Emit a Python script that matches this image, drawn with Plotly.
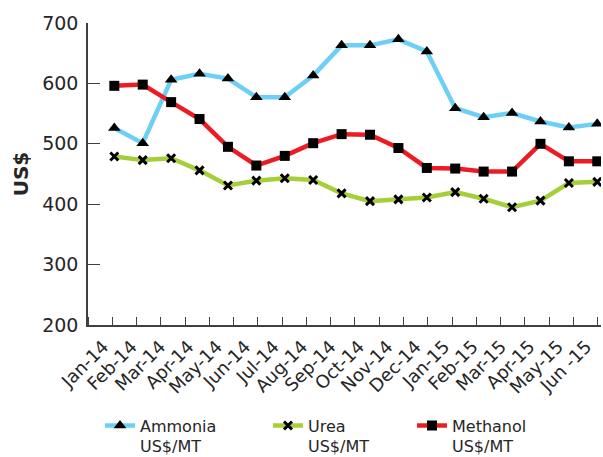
import plotly.graph_objects as go

# Monthly prices, Jan 2014 - Jun 2015 (US$/MT)
months = ["Jan-14", "Feb-14", "Mar-14", "Apr-14", "May-14", "Jun-14", "Jul-14",
          "Aug-14", "Sep-14", "Oct-14", "Nov-14", "Dec-14", "Jan-15", "Feb-15",
          "Mar-15", "Apr-15", "May-15", "Jun -15"]
ammonia = [526, 501, 606, 616, 608, 577, 577, 613, 663, 663, 673, 653,
           559, 544, 551, 537, 527, 533]
urea = [479, 473, 476, 456, 431, 439, 443, 440, 418, 405, 408, 411,
        420, 409, 395, 406, 435, 437]
methanol = [596, 598, 569, 541, 495, 464, 480, 501, 516, 515, 493, 460,
            459, 454, 454, 500, 471, 471]
y_ticks = [200, 300, 400, 500, 600, 700]

FONT = "DejaVu Sans"
INK = "#262626"
W, H = 603, 457
idx = list(range(len(months)))

# name, values, line colour, marker symbol, marker size, marker outline, legend id, legend left (px)
series = [
    ("Ammonia<br>US$/MT", ammonia, "#6DCFF6", "triangle-up", 11, 0, "legend", 100),
    ("Urea<br>US$/MT", urea, "#A6CE39", "x-thin", 8, 3, "legend2", 268),
    ("Methanol<br>US$/MT", methanol, "#ED1C24", "square", 10, 0, "legend3", 412),
]

fig = go.Figure()
legends = {}
for name, vals, color, symbol, size, lw, leg, left in series:
    fig.add_trace(go.Scatter(
        x=idx, y=vals, name=name, mode="lines+markers",
        line=dict(color=color, width=4.5),
        marker=dict(symbol=symbol, size=size, color="black",
                    line=dict(width=lw, color="black")),
        legend=leg, hoverinfo="skip",
    ))
    legends[leg] = dict(
        orientation="h", xref="container", x=left / W, xanchor="left",
        yref="container", y=0.106, yanchor="top",
        font=dict(size=16, family=FONT, color=INK), valign="top",
        bgcolor="rgba(0,0,0,0)",
    )

fig.update_layout(
    width=W, height=H,
    margin=dict(l=88, r=2, t=23, b=132, autoexpand=False),
    paper_bgcolor="white", plot_bgcolor="white",
    font=dict(family=FONT, color=INK),
    showlegend=True,
    **legends,
)

fig.update_xaxes(
    range=[-0.926, 17.131], tickmode="array", tickvals=idx, ticktext=months,
    tickangle=-45, ticks="", tickfont=dict(size=18, family=FONT, color=INK),
    ticklabeloverflow="allow", ticklabelshift=-11, ticklabelstandoff=2,
    automargin=False,
    showline=True, linecolor="#404040", linewidth=2,
    showgrid=False, zeroline=False,
    minor=dict(tickmode="linear", tick0=-0.926, dtick=0.8543, ticks="inside",
               ticklen=8, tickcolor="#404040", tickwidth=1.2, showgrid=False),
)

fig.update_yaxes(
    range=[200, 700], tickmode="array", tickvals=y_ticks,
    ticks="inside", ticklen=12, tickcolor="#404040", tickwidth=1.2,
    tickfont=dict(size=19, family=FONT, color=INK), ticklabelstandoff=4,
    showline=True, linecolor="#404040", linewidth=1.5,
    showgrid=False, zeroline=False, automargin=False,
    title=dict(text="<b>US$</b>", font=dict(size=20, family=FONT, color=INK),
               standoff=8),
)

fig.write_html("out.html")
